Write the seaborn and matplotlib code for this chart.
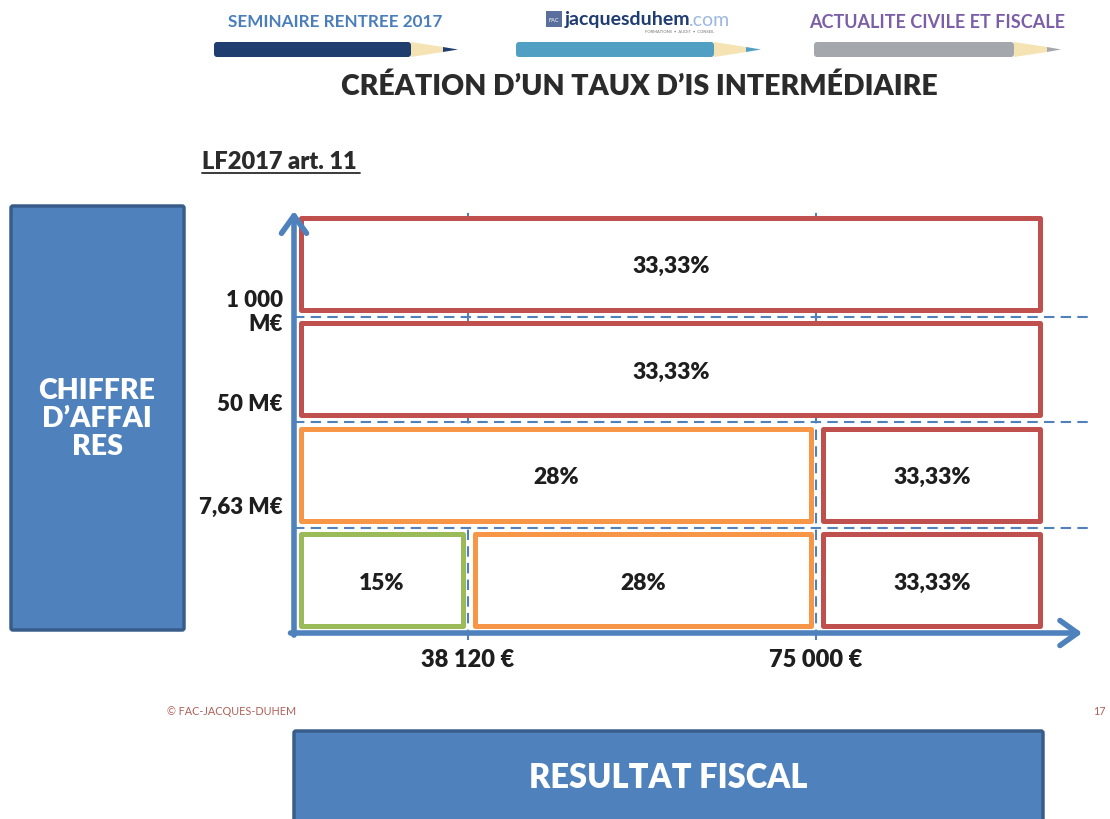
import matplotlib
matplotlib.use("Agg")
import matplotlib.pyplot as plt
import matplotlib.patches as mpatches
import seaborn as sns

# Data: corporate tax rate by turnover bracket (rows) and taxable profit bracket (columns)
turnover_labels = ["7,63 M€", "50 M€", "1 000\nM€"]
profit_labels = ["38 120 €", "75 000 €"]
bracket_edges = [0, 1, 3, 4.32]          # x positions of the profit brackets
cell_row = [0, 0, 0, 1, 1, 2, 3]
cell_start = [0, 1, 2, 0, 2, 0, 0]
cell_end = [1, 2, 3, 2, 3, 3, 3]
cell_rate = ["15%", "28%", "33,33%", "28%", "33,33%", "33,33%", "33,33%"]

rate_colors = {"15%": "#9BBB59", "28%": "#F79646", "33,33%": "#C0504D"}
BLUE = "#4F81BD"
DARK_BLUE = "#385D8A"
TXT = "#1E1E1E"
W = "heavy"

sns.set_theme(style="white")
plt.rcParams['font.family'] = ['Lato', 'DejaVu Sans']

fig = plt.figure(figsize=(11.1, 8.2), dpi=100)

# full-figure axes in pixel units for the slide decoration
deco = fig.add_axes([0, 0, 1, 1])
deco.set_xlim(0, 1110)
deco.set_ylim(820, 0)
deco.axis("off")


def pencil(x0, body_end, cone_end, tip_end, y0, y1, color):
    ym = (y0 + y1) / 2
    deco.add_patch(mpatches.FancyBboxPatch((x0, y0), body_end - x0, y1 - y0,
                                           boxstyle="round,pad=0,rounding_size=3",
                                           fc=color, ec="none"))
    deco.add_patch(mpatches.Polygon([(body_end, y0), (cone_end, ym - 2.5),
                                     (cone_end, ym + 2.5), (body_end, y1)],
                                    fc="#F5E3B3", ec="none"))
    deco.add_patch(mpatches.Polygon([(cone_end, ym - 2.5), (tip_end, ym),
                                     (cone_end, ym + 2.5)], fc=color, ec="none"))


# header
deco.text(335, 22, "SEMINAIRE RENTREE 2017", ha="center", va="center",
          fontsize=12.3, weight="bold", color="#4A7EBB")
deco.text(937, 22, "ACTUALITE CIVILE ET FISCALE", ha="center", va="center",
          fontsize=13, weight="bold", color="#7B5EA7")
pencil(214, 411, 443, 458, 43, 58, "#1F3D6E")
pencil(516, 714, 746, 761, 43, 58, "#519FC3")
pencil(814, 1014, 1047, 1061, 43, 58, "#A4A8AD")
deco.add_patch(mpatches.Rectangle((546, 12), 16, 16, fc="#5A6F9C", ec="none"))
deco.text(554, 20, "FAC", ha="center", va="center", fontsize=4, color="white")
deco.text(565, 20, "jacquesduhem", ha="left", va="center", fontsize=14,
          weight="bold", color="#1F3C73")
deco.text(689, 20, ".com", ha="left", va="center", fontsize=14, color="#9DB8DE")
deco.text(680, 32, "FORMATIONS  •  AUDIT  •  CONSEIL", ha="center", va="center",
          fontsize=3, color="#777777")

# title and reference
deco.text(639, 87, "CRÉATION D’UN TAUX D’IS INTERMÉDIAIRE", ha="center", va="center",
          fontsize=20.5, weight=W, color="#2B2B2B")
deco.text(202, 162, "LF2017 art. 11", ha="left", va="center", fontsize=17,
          weight=W, color="#2B2B2B")
deco.plot([202, 360], [174, 174], color="#2B2B2B", lw=1.3)

# side boxes
deco.add_patch(mpatches.FancyBboxPatch((11, 207), 173, 424,
                                       boxstyle="round,pad=0,rounding_size=2",
                                       fc=BLUE, ec=DARK_BLUE, lw=2.5))
deco.text(97, 419, "CHIFFRE\nD’AFFAI\nRES", ha="center", va="center",
          fontsize=20.5, weight=W, color="white", linespacing=1.08)
deco.add_patch(mpatches.FancyBboxPatch((294, 732), 749, 100,
                                       boxstyle="round,pad=0,rounding_size=2",
                                       fc=BLUE, ec=DARK_BLUE, lw=2.5))
deco.text(668, 778, "RESULTAT FISCAL", ha="center", va="center",
          fontsize=23.5, weight=W, color="white")

# footer
deco.text(167, 712, "© FAC-JACQUES-DUHEM", ha="left", va="center",
          fontsize=7.8, color="#B0615A")
deco.text(1106, 712, "17", ha="right", va="center", fontsize=7.8, color="#B0615A")

# main diagram axes (1 x-unit = 174 px, 1 y-unit = 105.5 px, origin at (294, 634))
ax = fig.add_axes([260 / 1110, 1 - 660 / 820, 840 / 1110, 460 / 820])
ax.set_xlim(-34 / 174, 806 / 174)
ax.set_ylim(-26 / 105.5, 434 / 105.5)
ax.axis("off")

# dashed guides
ax.hlines([1, 2, 3], 0, 4.57, colors=BLUE, linestyles=(0, (5, 3)), lw=1.5, zorder=1)
ax.vlines(bracket_edges[1:3], -0.07, 4.02, colors=BLUE, linestyles=(0, (5, 3)),
          lw=1.5, zorder=1)

# rate cells
pad_l, pad_r, h = 0.04, 0.03, 0.87
lefts = [bracket_edges[s] + pad_l for s in cell_start]
widths = [bracket_edges[e] - bracket_edges[s] - pad_l - pad_r
          for s, e in zip(cell_start, cell_end)]
ys = [r + 0.5 for r in cell_row]
edge_cols = [rate_colors[r] for r in cell_rate]
bars = ax.barh(ys, widths, left=lefts, height=h, color="white",
               edgecolor=edge_cols, linewidth=3.6, zorder=2)
for b in bars:
    b.set_joinstyle("round")
for l, w, y, r in zip(lefts, widths, ys, cell_rate):
    ax.text(l + w / 2, y - 0.02, r, ha="center", va="center", fontsize=16.5,
            weight=W, color=TXT, zorder=3)

# axes arrows
arrow = dict(arrowstyle="->,head_length=0.7,head_width=0.5", lw=4, color=BLUE,
             mutation_scale=18, shrinkA=0, shrinkB=0, capstyle="round")
ax.annotate("", xy=(0, 4.0), xytext=(0, -0.02), arrowprops=arrow, zorder=4)
ax.annotate("", xy=(4.53, 0), xytext=(-0.02, 0), arrowprops=arrow, zorder=4)

# threshold labels
label_y = [1 + 0.2, 2 + 0.18, 3 + 0.05]
for y, lab in zip(label_y, turnover_labels):
    ax.text(-0.065, y, lab, ha="right", va="center", fontsize=16, weight=W,
            color=TXT, linespacing=1.2)
for x, lab in zip(bracket_edges[1:3], profit_labels):
    ax.text(x, -0.25, lab, ha="center", va="center", fontsize=17, weight=W,
            color=TXT)

fig.savefig("out.png", dpi=100)
